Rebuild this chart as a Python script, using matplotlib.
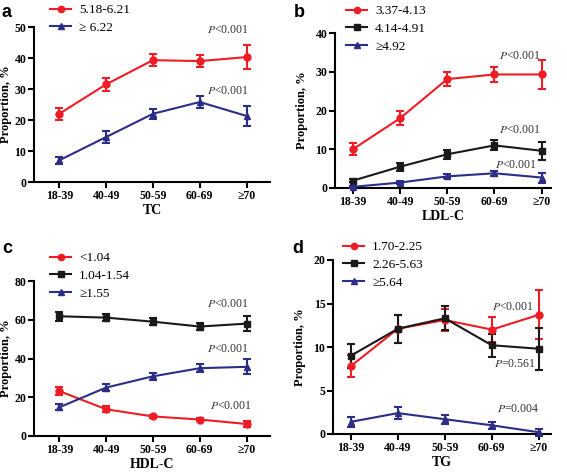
import matplotlib
matplotlib.use('Agg')
import matplotlib.pyplot as plt
from matplotlib.lines import Line2D

plt.rcParams['font.family'] = ['Liberation Serif', 'DejaVu Serif']

RED = '#ee1c25'
BLACK = '#1a1a1a'
NAVY = '#2b2d86'

ages = ['18-39', '40-49', '50-59', '60-69', '\u226570']

# panel a: TC
tc_labels = ['5.18-6.21', '\u2265 6.22']
tc_vals = [[22.0, 31.5, 39.3, 39.0, 40.3],
           [7.0, 14.5, 22.0, 25.8, 21.3]]
tc_err = [[2.0, 2.2, 2.0, 2.0, 4.0],
          [1.2, 1.8, 1.7, 2.0, 3.3]]
tc_p = ['<0.001', '<0.001']

# panel b: LDL-C
ldl_labels = ['3.37-4.13', '4.14-4.91', '\u22654.92']
ldl_vals = [[10.0, 18.0, 28.1, 29.3, 29.3],
            [1.9, 5.5, 8.7, 11.0, 9.6],
            [0.3, 1.4, 3.0, 3.8, 2.7]]
ldl_err = [[1.5, 1.8, 1.8, 1.9, 3.7],
           [0.3, 1.0, 1.1, 1.3, 2.4],
           [0.2, 0.3, 0.5, 0.6, 1.3]]
ldl_p = ['<0.001', '<0.001', '<0.001']

# panel c: HDL-C
hdl_labels = ['<1.04', '1.04-1.54', '\u22651.55']
hdl_vals = [[23.2, 13.8, 10.1, 8.5, 6.2],
            [61.8, 61.1, 59.0, 56.5, 58.0],
            [14.8, 25.0, 30.8, 35.0, 35.7]]
hdl_err = [[2.0, 1.5, 0.8, 1.0, 1.7],
           [2.2, 2.0, 1.8, 2.0, 4.0],
           [1.6, 2.0, 1.8, 2.0, 3.8]]
hdl_p = ['<0.001', '<0.001', '<0.001']

# panel d: TG
tg_labels = ['1.70-2.25', '2.26-5.63', '\u22655.64']
tg_vals = [[7.8, 12.1, 13.1, 12.0, 13.7],
           [9.0, 12.1, 13.3, 10.2, 9.8],
           [1.4, 2.4, 1.7, 1.0, 0.2]]
tg_err = [[1.3, 1.6, 1.3, 1.4, 2.8],
          [1.4, 1.6, 1.4, 1.3, 2.4],
          [0.6, 0.7, 0.5, 0.4, 0.4]]
tg_p = ['<0.001', '=0.561', '=0.004']

W, H = 567, 472
fig = plt.figure(figsize=(W / 100, H / 100), dpi=100)


def px_axes(left, right, top, bottom):
    return fig.add_axes([left / W, 1 - bottom / H, (right - left) / W, (bottom - top) / H])


def draw(ax, vals, errs, colors, markers, xlim, ymax, ystep, xlabel, ylab_x):
    x = list(range(len(ages)))
    for v, e, c, m in zip(vals, errs, colors, markers):
        ax.errorbar(x, v, yerr=e, color=c, marker=m, markersize=5, lw=1.5,
                    elinewidth=1.5, capsize=3, capthick=1.5, clip_on=False, zorder=3)
    ax.set_xlim(*xlim)
    ax.set_ylim(0, ymax)
    ax.set_yticks(range(0, ymax + 1, ystep))
    ax.set_xticks(x)
    ax.set_xticklabels(ages)
    for s in ['top', 'right']:
        ax.spines[s].set_visible(False)
    for s in ['left', 'bottom']:
        ax.spines[s].set_linewidth(1.5)
    ax.tick_params(direction='out', length=4, width=1.5, labelsize=8.5, pad=1.5)
    for lab in ax.get_xticklabels() + ax.get_yticklabels():
        lab.set_fontweight('bold')
    ax.set_ylabel('Proportion, %', fontsize=9, fontweight='bold')
    bb = ax.get_position()
    # label coords give the right edge of the rotated label
    ax.yaxis.set_label_coords((ylab_x / W - bb.x0) / bb.width, 0.5)
    ax.set_xlabel(xlabel, fontsize=10, fontweight='bold', labelpad=2)


def legend(ax, labels, colors, markers, x, y):
    handles = [Line2D([], [], color=c, marker=m, markersize=4.5, lw=1.5)
               for c, m in zip(colors, markers)]
    ax.legend(handles, labels, loc='upper left', bbox_to_anchor=(x / W, 1 - y / H),
              bbox_transform=fig.transFigure, frameon=False, fontsize=9.5,
              borderpad=0, borderaxespad=0, handlelength=1.6, handletextpad=0.6,
              labelspacing=0.42)


def pval(ax, x, y, txt):
    ax.text(x, y, r'$\it{P}$' + txt, ha='center', va='center', fontsize=8.5,
            color='#333333', math_fontfamily='stix')


# a
ax = px_axes(34, 270, 27, 182)
draw(ax, tc_vals, tc_err, [RED, NAVY], ['o', '^'], (-0.54, 4.5), 50, 10, 'TC', 12)
legend(ax, tc_labels, [RED, NAVY], ['o', '^'], 50, 4)
pval(ax, 3.6, 49, tc_p[0])
pval(ax, 3.6, 29.5, tc_p[1])
fig.text(2 / W, 1 - 17 / H, 'a', fontsize=13, fontweight='bold', family='Liberation Sans')

# b
ax = px_axes(335, 551, 33, 188)
draw(ax, ldl_vals, ldl_err, [RED, BLACK, NAVY], ['o', 's', '^'], (-0.38, 4.2), 40, 10, 'LDL-C', 308)
legend(ax, ldl_labels, [RED, BLACK, NAVY], ['o', 's', '^'], 346, 5)
pval(ax, 3.53, 34, ldl_p[0])
pval(ax, 3.53, 15, ldl_p[1])
pval(ax, 3.45, 5.9, ldl_p[2])
fig.text(294 / W, 1 - 17 / H, 'b', fontsize=13, fontweight='bold', family='Liberation Sans')

# c
ax = px_axes(34, 270, 281, 436)
draw(ax, hdl_vals, hdl_err, [RED, BLACK, NAVY], ['o', 's', '^'], (-0.54, 4.5), 80, 20, 'HDL-C', 12)
legend(ax, hdl_labels, [RED, BLACK, NAVY], ['o', 's', '^'], 50, 252)
pval(ax, 3.6, 68, hdl_p[0])
pval(ax, 3.6, 45, hdl_p[1])
pval(ax, 3.66, 15.5, hdl_p[2])
fig.text(2 / W, 1 - 253 / H, 'c', fontsize=13, fontweight='bold', family='Liberation Sans')

# d
ax = px_axes(333, 551, 260, 434)
draw(ax, tg_vals, tg_err, [RED, BLACK, NAVY], ['o', 's', '^'], (-0.38, 4.26), 20, 5, 'TG', 306)
legend(ax, tg_labels, [RED, BLACK, NAVY], ['o', 's', '^'], 343, 241)
pval(ax, 3.45, 14.6, tg_p[0])
pval(ax, 3.5, 8.0, tg_p[1])
pval(ax, 3.55, 2.9, tg_p[2])
fig.text(292 / W, 1 - 253 / H, 'd', fontsize=13, fontweight='bold', family='Liberation Sans')

fig.savefig('out.png', dpi=100)
